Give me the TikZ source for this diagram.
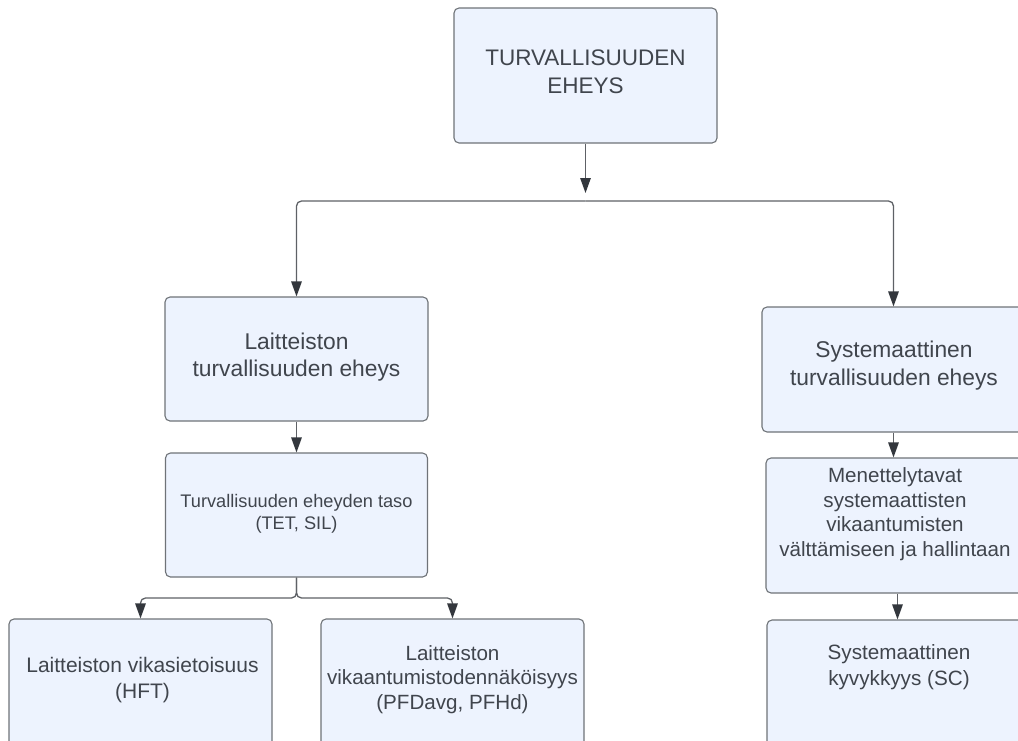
\documentclass[tikz,border=0pt]{standalone}
\usepackage{fontspec}
\setmainfont{Liberation Sans}
\usetikzlibrary{arrows.meta}

\definecolor{boxfill}{HTML}{EDF3FE}
\definecolor{boxline}{HTML}{6F7378}
\definecolor{wire}{HTML}{5E6166}
\definecolor{tipcol}{HTML}{33373D}
\definecolor{ink}{HTML}{40454D}

\tikzset{
  block/.style={draw=boxline, fill=boxfill, line width=1.1pt,
    rounded corners=5pt, minimum width=263pt, minimum height=#1, inner sep=0pt},
  txt/.style={text=ink, align=center, inner sep=0pt,
    execute at begin node=\strut, execute at end node=\strut},
  conn/.style={draw=wire, line width=1.3pt, rounded corners=5pt,
    -{Triangle[length=15pt, width=10.5pt, color=tipcol]}}
}

\begin{document}
\begin{tikzpicture}[x=1pt, y=-1pt]
  \useasboundingbox (0,0) rectangle (1018,740);
  \clip (0,0) rectangle (1018,740);

  % boxes
  \node[block=135pt] (top)  at (585.5,75.5)  {};
  \node[block=124pt] (hw)   at (296.5,359)   {};
  \node[block=124pt, minimum width=262pt] (sil) at (296.5,515) {};
  \node[block=135pt] (hft)  at (140.5,686.5) {};
  \node[block=135pt] (pfd)  at (452.5,686.5) {};
  \node[block=125pt] (sys)  at (893.5,369.5) {};
  \node[block=135pt] (proc) at (897.5,525.5) {};
  \node[block=135pt] (sc)   at (898.5,687.5) {};

  % texts
  \node[txt, font=\fontsize{22.5}{28.5}\selectfont] (ttop) at (585.5,76)
    {TURVALLISUUDEN\\EHEYS};
  \node[txt, font=\fontsize{22.8}{26.7}\selectfont] (thw) at (296.5,358.5)
    {Laitteiston\\turvallisuuden eheys};
  \node[txt, font=\fontsize{18.2}{21.7}\selectfont] (tsil) at (296.5,515)
    {Turvallisuuden eheyden taso\\(TET, SIL)};
  \node[txt, font=\fontsize{21}{26}\selectfont] (thft) at (142.5,682)
    {Laitteiston vikasietoisuus\\(HFT)};
  \node[txt, font=\fontsize{20.6}{24.5}\selectfont] (tpfd) at (452.5,680.8)
    {Laitteiston\\vikaantumistodennäköisyys\\(PFDavg, PFHd)};
  \node[txt, font=\fontsize{22.8}{27.4}\selectfont] (tsys) at (894,367.5)
    {Systemaattinen\\turvallisuuden eheys};
  \node[txt, font=\fontsize{20.6}{24.7}\selectfont] (tproc) at (895,515.8)
    {Menettelytavat\\systemaattisten\\vikaantumisten\\välttämiseen ja hallintaan};
  \node[txt, font=\fontsize{20.7}{25.7}\selectfont] (tsc) at (899,668.7)
    {Systemaattinen\\kyvykkyys (SC)};

  % connectors
  \coordinate (drop) at (585.5,193);
  \coordinate (bus) at (585.5,201);
  \coordinate (fork) at (296.5,598);

  \draw[conn] (top.south) -- (drop);
  \draw[conn] (bus) -| (hw.north);
  \draw[conn] (bus) -| (sys.north);
  \draw[conn] (hw.south) -- (sil.north);
  \draw[conn] (sil.south) |- (fork) -| (hft.north);
  \draw[conn] (sil.south) |- (fork) -| (pfd.north);
  \draw[conn] (sys.south) -- (sys.south |- proc.north);
  \draw[conn] (proc.south) -- (proc.south |- sc.north);
\end{tikzpicture}
\end{document}
